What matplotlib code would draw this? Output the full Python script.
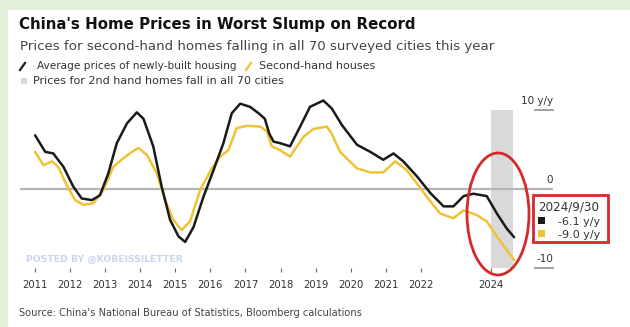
import matplotlib.pyplot as plt
from matplotlib.patches import Rectangle, Ellipse
from matplotlib.lines import Line2D
import matplotlib.transforms as mtransforms

plt.rcParams['font.family'] = ['DejaVu Sans']

# year-on-year change, %, 70-city averages
dates_new = [2011.0, 2011.29, 2011.52, 2011.81, 2012.09, 2012.33, 2012.62, 2012.85,
             2013.09, 2013.33, 2013.62, 2013.90, 2014.09, 2014.37, 2014.61, 2014.85,
             2015.09, 2015.28, 2015.52, 2015.80, 2016.09, 2016.37, 2016.61, 2016.85,
             2017.13, 2017.37, 2017.55, 2017.68, 2017.80, 2017.99, 2018.27, 2018.56,
             2018.84, 2019.22, 2019.46, 2019.75, 2020.18, 2020.56, 2020.93, 2021.22,
             2021.50, 2021.89, 2022.27, 2022.65, 2022.93, 2023.22, 2023.50, 2023.88,
             2024.17, 2024.45, 2024.66]
new_built = [6.8, 4.7, 4.5, 2.8, 0.3, -1.2, -1.4, -0.8,
             2.0, 5.8, 8.3, 9.7, 8.9, 5.4, 0.3, -3.9,
             -6.0, -6.7, -4.8, -1.0, 2.4, 5.8, 9.6, 10.8,
             10.4, 9.6, 8.9, 7.0, 6.0, 5.8, 5.4, 7.9,
             10.4, 11.2, 10.2, 8.1, 5.6, 4.7, 3.7, 4.5,
             3.5, 1.6, -0.5, -2.2, -2.2, -0.9, -0.6, -0.9,
             -3.1, -5.0, -6.1]

dates_2nd = [2011.0, 2011.24, 2011.48, 2011.66, 2011.90, 2012.14, 2012.38, 2012.66,
             2012.95, 2013.23, 2013.52, 2013.76, 2013.95, 2014.19, 2014.47, 2014.71,
             2014.94, 2015.18, 2015.42, 2015.71, 2016.04, 2016.28, 2016.51, 2016.75,
             2017.04, 2017.42, 2017.61, 2017.75, 2017.99, 2018.27, 2018.65, 2018.94,
             2019.32, 2019.46, 2019.70, 2020.18, 2020.56, 2020.93, 2021.27, 2021.60,
             2021.89, 2022.17, 2022.55, 2022.93, 2023.22, 2023.60, 2023.88, 2024.17,
             2024.66]
second_hand = [4.7, 3.0, 3.5, 2.8, 0.5, -1.4, -2.0, -1.8,
               -0.1, 2.8, 3.9, 4.7, 5.2, 4.3, 2.0, -1.4,
               -3.9, -5.2, -4.1, -0.1, 2.6, 4.1, 4.9, 7.7,
               8.0, 7.9, 7.3, 5.4, 4.9, 4.1, 6.6, 7.6,
               7.9, 7.0, 4.7, 2.6, 2.1, 2.1, 3.5, 2.4,
               0.7, -1.0, -3.1, -3.7, -2.7, -3.3, -4.1, -6.0,
               -9.0]

tick_years = [2011, 2012, 2013, 2014, 2015, 2016, 2017, 2018, 2019, 2020, 2021, 2022, 2024]
all_cities_fall = (2024.0, 2024.63)
latest_date = '2024/9/30'

BLACK = '#1a1a1a'
YELLOW = '#eec334'
RED = '#d42a2a'

W, H = 630, 327
fig = plt.figure(figsize=(W / 100, H / 100), dpi=100)
fig.patch.set_facecolor('#e3efd9')


def fx(px):
    return px / W


def fy(py):
    return 1 - py / H


fig.add_artist(Rectangle((fx(8), 0), 1 - fx(8), fy(10), transform=fig.transFigure,
                         facecolor='white', edgecolor='none', zorder=-1))

ax = fig.add_axes([fx(20), fy(268), fx(553) - fx(20), fy(110) - fy(268)])
ax.set_facecolor('none')
ax.set_xlim(2010.57, 2025.77)
ax.set_ylim(-10, 10)
for s in ax.spines.values():
    s.set_visible(False)

ax.axvspan(*all_cities_fall, color='#d9d9d9', lw=0, zorder=1)
ax.axhline(0, color='#b5b5b5', lw=1.6, zorder=2)
ax.plot(dates_2nd, second_hand, color=YELLOW, lw=1.8, clip_on=False,
        solid_joinstyle='round', solid_capstyle='round', zorder=3)
ax.plot(dates_new, new_built, color=BLACK, lw=1.8, clip_on=False,
        solid_joinstyle='round', solid_capstyle='round', zorder=4)

ax.set_xticks(tick_years)
ax.set_xticklabels([str(y) for y in tick_years])
ax.tick_params(axis='x', length=3, width=0.8, color='#666', pad=6,
               labelsize=7.2, labelcolor='#333')
ax.set_yticks([])

# right-hand value labels sitting on short rule segments
trans = mtransforms.blended_transform_factory(ax.transAxes, ax.transData)
for val, lab in [(10, '10 y/y'), (0, '0'), (-10, '-10')]:
    if val != 0:
        ax.plot([0.966, 1.0], [val, val], color='#999', lw=1.3, transform=trans,
                clip_on=False)
    ax.annotate(lab, xy=(1.0, val), xycoords=trans, xytext=(0, 4),
                textcoords='offset points', ha='right', va='baseline',
                fontsize=7.5, color='#333')

# headline and legend
fig.text(fx(19), fy(29), "China's Home Prices in Worst Slump on Record",
         fontsize=10.8, fontweight='bold', color='#111')
fig.text(fx(20), fy(50), 'Prices for second-hand homes falling in all 70 surveyed cities this year',
         fontsize=9.65, color='#444')
fig.add_artist(Line2D([fx(20), fx(25)], [fy(70), fy(63)], color=BLACK, lw=1.6,
                      transform=fig.transFigure))
fig.text(fx(37), fy(69), 'Average prices of newly-built housing', fontsize=7.6, color='#333')
fig.add_artist(Line2D([fx(246), fx(251)], [fy(70), fy(63)], color=YELLOW, lw=1.6,
                      transform=fig.transFigure))
fig.text(fx(259), fy(69), 'Second-hand houses', fontsize=8.0, color='#333')
fig.add_artist(Rectangle((fx(21), fy(84)), fx(6), fy(0) - fy(6), transform=fig.transFigure,
                         facecolor='#d9d9d9', edgecolor='none'))
fig.text(fx(33), fy(84), 'Prices for 2nd hand homes fall in all 70 cities',
         fontsize=8.0, color='#333')

fig.text(fx(26), fy(262), 'POSTED BY @KOBEISSILETTER', fontsize=6.65,
         fontweight='bold', color='#c9d5ee')
fig.text(fx(19), fy(316), "Source: China's National Bureau of Statistics, Bloomberg calculations",
         fontsize=7.15, color='#444')

# latest readings box
fig.add_artist(Rectangle((fx(533), fy(242)), fx(608) - fx(533), fy(195) - fy(242),
                         transform=fig.transFigure, facecolor='white', edgecolor=RED, lw=2))
fig.text(fx(538), fy(210), latest_date, fontsize=8.6, color='#333')
for row, (col, val) in enumerate([(BLACK, new_built[-1]), (YELLOW, second_hand[-1])]):
    base = 225 + 13 * row
    fig.add_artist(Rectangle((fx(538), fy(base - 1)), fx(7), fy(0) - fy(7),
                             transform=fig.transFigure, facecolor=col, edgecolor='none'))
    fig.text(fx(600), fy(base), f'{val:.1f} y/y', ha='right', fontsize=8.0, color='#333')

fig.add_artist(Ellipse((fx(498), fy(214)), fx(62), fy(0) - fy(122),
                       transform=fig.transFigure, facecolor='none', edgecolor=RED, lw=2))

fig.savefig('out.png', dpi=100, facecolor=fig.get_facecolor())
